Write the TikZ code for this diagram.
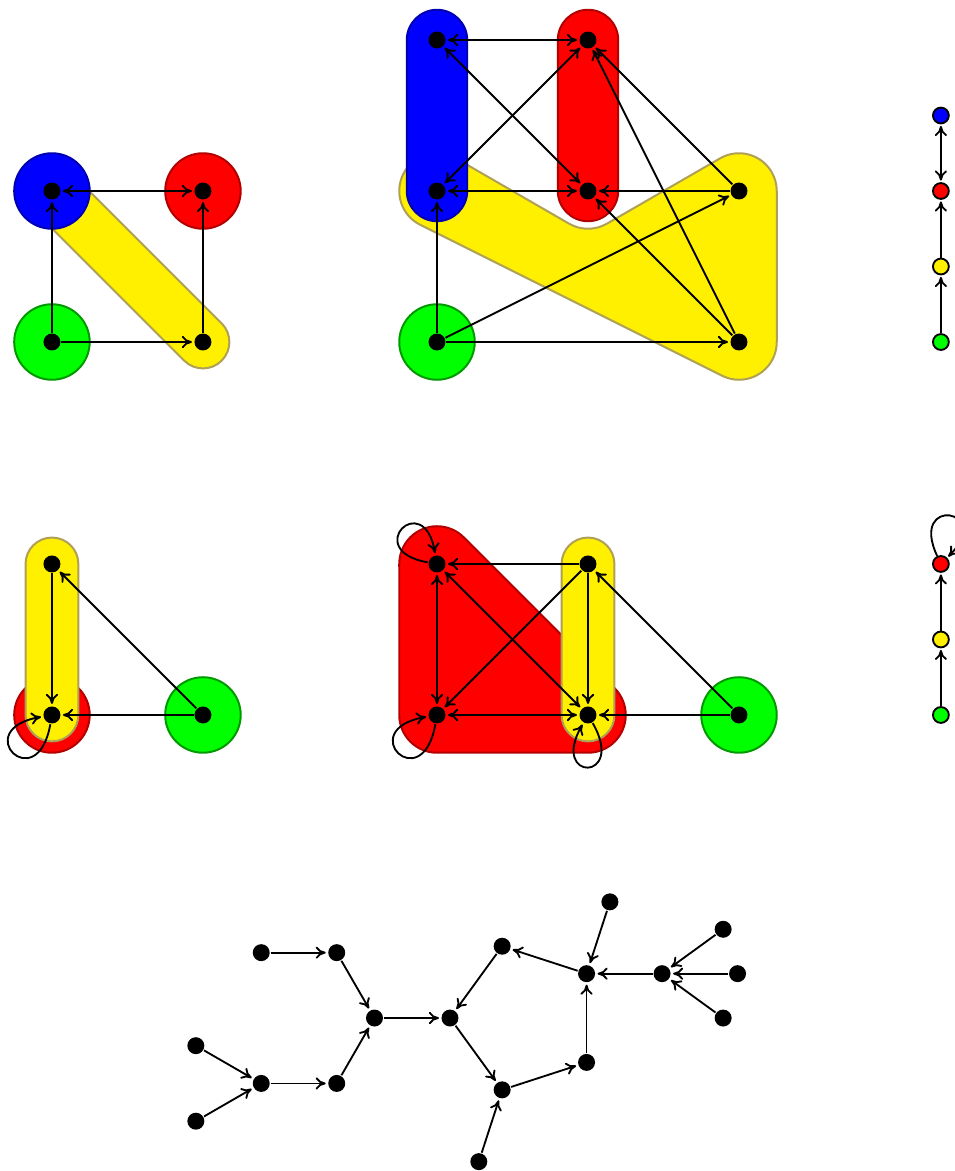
\documentclass[tikz,border=0pt]{standalone}
\usetikzlibrary{arrows.meta,calc,backgrounds}
\definecolor{hullyellow}{RGB}{255,240,0}
\definecolor{hullblue}{RGB}{0,0,255}
\definecolor{hullred}{RGB}{255,0,0}
\definecolor{hullgreen}{RGB}{0,255,0}
\definecolor{yellowrim}{RGB}{175,160,85}
\begin{document}
\begin{tikzpicture}[x=2cm,y=2cm,line width=.7pt,>={To[length=3.8pt,width=4.6pt]},
  dot/.style={circle,fill=black,inner sep=0pt,minimum size=2.25mm},
  cdot/.style={circle,draw=black,inner sep=0pt,minimum size=2.1mm},
  link/.style={->,shorten >=.6pt},
  both/.style={<->,shorten >=.6pt,shorten <=.6pt},
  yellowset/.style={fill=hullyellow,draw=yellowrim,line width=.75pt},
  blueset/.style={fill=hullblue,draw=blue!70!black,line width=.75pt},
  redset/.style={fill=hullred,draw=red!70!black,line width=.75pt},
  greenset/.style={fill=hullgreen,draw=green!60!black,line width=.75pt}]
\useasboundingbox (-0.344,-5.490) rectangle (5.974,2.265);
% Top left: four classes.
\node[dot] (pb) at (0,1) {};
\node[dot] (pr) at (1,1) {};
\node[dot] (pg) at (0,0) {};
\node[dot] (py) at (1,0) {};
% Top middle: seven vertices.
\node[dot] (qb1) at (2.55,2) {};
\node[dot] (qb2) at (2.55,1) {};
\node[dot] (qr1) at (3.55,2) {};
\node[dot] (qr2) at (3.55,1) {};
\node[dot] (qy1) at (4.55,1) {};
\node[dot] (qy2) at (4.55,0) {};
\node[dot] (qg) at (2.55,0) {};
% Top right: quotient.
\node[cdot,fill=hullblue] (cb) at (5.887,1.5) {};
\node[cdot,fill=hullred] (cr) at (5.887,1) {};
\node[cdot,fill=hullyellow] (cy) at (5.887,.5) {};
\node[cdot,fill=hullgreen] (cg) at (5.887,0) {};
% Middle left.
\node[dot] (mp) at (0,-1.47) {};
\node[dot] (mq) at (0,-2.47) {};
\node[dot] (mr) at (1,-2.47) {};
% Middle centre.
\node[dot] (ns) at (2.55,-1.47) {};
\node[dot] (nt) at (2.55,-2.47) {};
\node[dot] (nu) at (3.55,-1.47) {};
\node[dot] (nv) at (3.55,-2.47) {};
\node[dot] (nw) at (4.55,-2.47) {};
% Middle right: quotient.
\node[cdot,fill=hullred] (dr) at (5.887,-1.47) {};
\node[cdot,fill=hullyellow] (dy) at (5.887,-1.97) {};
\node[cdot,fill=hullgreen] (dg) at (5.887,-2.47) {};
% Bottom: tree hanging on a pentagon.
\node[dot] (t4) at (2.636,-4.477) {};
\coordinate (pc) at ($(t4)+(.5,0)$);
\node[dot] (t9) at ($(pc)+(108:.5)$) {};
\node[dot] (t10) at ($(pc)+(36:.5)$) {};
\node[dot] (t16) at ($(pc)+(-36:.5)$) {};
\node[dot] (t17) at ($(pc)+(-108:.5)$) {};
\node[dot] (t3) at ($(t4)+(180:.5)$) {};
\node[dot] (t2) at ($(t3)+(120:.5)$) {};
\node[dot] (t1) at ($(t2)+(180:.5)$) {};
\node[dot] (t7) at ($(t3)+(240:.5)$) {};
\node[dot] (t6) at ($(t7)+(180:.5)$) {};
\node[dot] (t5) at ($(t6)+(150:.5)$) {};
\node[dot] (t8) at ($(t6)+(210:.5)$) {};
\node[dot] (t11) at ($(t10)+(72:.5)$) {};
\node[dot] (t12) at ($(t10)+(0:.5)$) {};
\node[dot] (t13) at ($(t12)+(36:.5)$) {};
\node[dot] (t14) at ($(t12)+(0:.5)$) {};
\node[dot] (t15) at ($(t12)+(-36:.5)$) {};
\node[dot] (t18) at ($(t17)+(252:.5)$) {};
% Class hulls, under the vertices.
\begin{scope}[on background layer]
  \filldraw[yellowset] ($(pb)+(45:.175)$) -- ($(py)+(45:.175)$)
    arc[start angle=45,end angle=-135,radius=.175] -- ($(pb)+(225:.175)$)
    arc[start angle=225,end angle=45,radius=.175] -- cycle;
  \filldraw[blueset] (pb) circle (.25);
  \filldraw[redset] (pr) circle (.25);
  \filldraw[greenset] (pg) circle (.25);
  \filldraw[yellowset] ($(qb2)+(60:.25)$) -- ($(qr2)+(240:.25)$)
    arc[start angle=240,end angle=300,radius=.25] -- ($(qy1)+(120:.25)$)
    arc[start angle=120,end angle=0,radius=.25] -- ($(qy2)+(0:.25)$)
    arc[start angle=0,end angle=-116.57,radius=.25] -- ($(qb2)+(243.43:.25)$)
    arc[start angle=243.43,end angle=60,radius=.25] -- cycle;
  \filldraw[blueset] ($(qb1)+(180:.2)$) -- ($(qb2)+(180:.2)$)
    arc[start angle=180,end angle=360,radius=.2] -- ($(qb1)+(0:.2)$)
    arc[start angle=0,end angle=180,radius=.2] -- cycle;
  \filldraw[redset] ($(qr1)+(180:.2)$) -- ($(qr2)+(180:.2)$)
    arc[start angle=180,end angle=360,radius=.2] -- ($(qr1)+(0:.2)$)
    arc[start angle=0,end angle=180,radius=.2] -- cycle;
  \filldraw[greenset] (qg) circle (.25);
  \filldraw[redset] (mq) circle (.25);
  \filldraw[yellowset] ($(mp)+(180:.175)$) -- ($(mq)+(180:.175)$)
    arc[start angle=180,end angle=360,radius=.175] -- ($(mp)+(0:.175)$)
    arc[start angle=0,end angle=180,radius=.175] -- cycle;
  \filldraw[greenset] (mr) circle (.25);
  \filldraw[redset] ($(ns)+(180:.25)$) -- ($(nt)+(180:.25)$)
    arc[start angle=180,end angle=270,radius=.25] -- ($(nv)+(270:.25)$)
    arc[start angle=270,end angle=405,radius=.25] -- ($(ns)+(45:.25)$)
    arc[start angle=45,end angle=180,radius=.25] -- cycle;
  \filldraw[yellowset] ($(nu)+(180:.175)$) -- ($(nv)+(180:.175)$)
    arc[start angle=180,end angle=360,radius=.175] -- ($(nu)+(0:.175)$)
    arc[start angle=0,end angle=180,radius=.175] -- cycle;
  \filldraw[greenset] (nw) circle (.25);
\end{scope}
% Arcs.
\foreach \u/\v in {pg/pb,pg/py,py/pr,
  qy1/qr2,qy1/qr1,qy2/qr1,qy2/qr2,qg/qb2,qg/qy1,qg/qy2,cy/cr,cg/cy,
  mp/mq,mr/mp,mr/mq,nu/ns,nu/nt,nu/nv,nw/nv,nw/nu,dy/dr,dg/dy,
  t1/t2,t2/t3,t7/t3,t3/t4,t5/t6,t8/t6,t6/t7,t10/t9,t9/t4,t4/t17,
  t17/t16,t16/t10,t11/t10,t12/t10,t13/t12,t14/t12,t15/t12,t18/t17}
  \draw[link] (\u) -- (\v);
\foreach \u/\v in {pb/pr,qb1/qr1,qb1/qr2,qb2/qr1,qb2/qr2,cb/cr,
  ns/nt,ns/nv,nt/nv}
  \draw[both] (\u) -- (\v);
% Loops.
\draw[link] (mq) to[out=-100,in=190,min distance=10mm] (mq);
\draw[link] (nt) to[out=-100,in=190,min distance=10mm] (nt);
\draw[link] (ns) to[out=170,in=100,min distance=9mm] (ns);
\draw[link] (nv) to[out=-60,in=240,min distance=9mm] (nv);
\draw[link] (dr) to[out=115,in=45,min distance=9mm] (dr);
\end{tikzpicture}
\end{document}
